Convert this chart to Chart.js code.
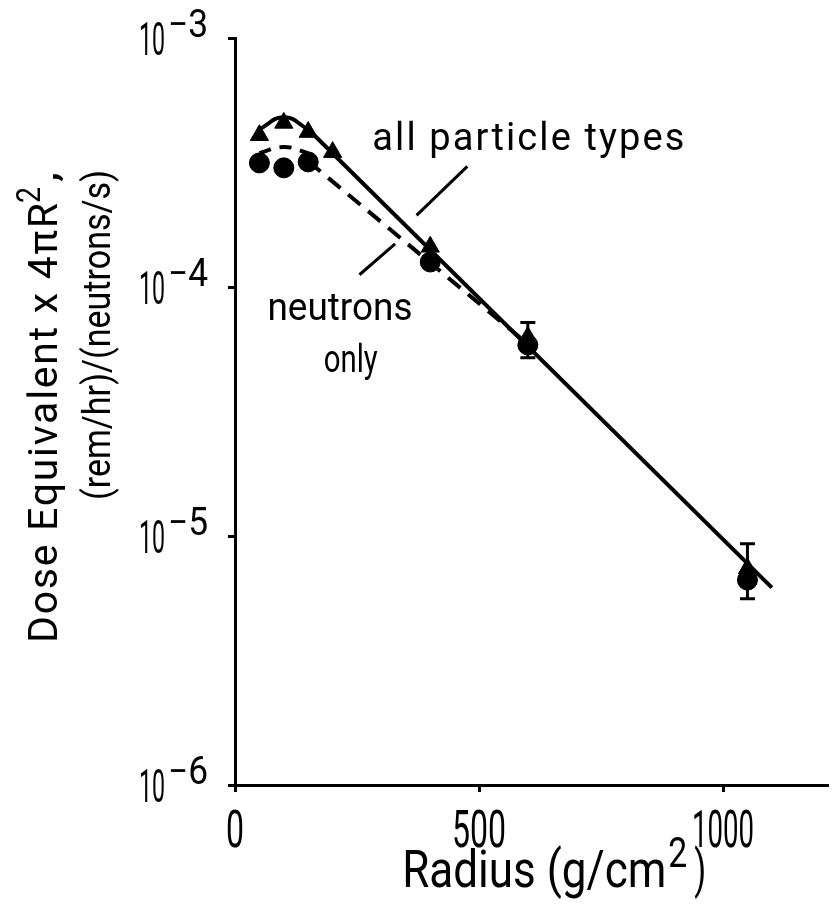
<!DOCTYPE html>
<html>
<head>
<meta charset="utf-8">
<script src="https://cdn.jsdelivr.net/npm/chart.js@4.4.0/dist/chart.umd.min.js"></script>
<style>
    html, body { margin: 0; padding: 0; background: #fff; }
    #area_grafico { width: 839px; height: 923px; }
</style>
</head>
<body>
<div id="area_grafico"><canvas id="grafico" width="839" height="923"></canvas></div>
<script>
// all particle types (triangles)
var raioTodas = [50, 100, 150, 200, 400, 600, 1050];
var doseTodas = [4.07e-4, 4.56e-4, 4.19e-4, 3.48e-4, 1.45e-4, 6.3e-5, 7.4e-6];

// neutrons only (circles)
var raioNeutrons = [50, 100, 150, 400, 600, 1050];
var doseNeutrons = [3.15e-4, 3.01e-4, 3.18e-4, 1.26e-4, 5.85e-5, 6.65e-6];

// error bars on the neutron points
var raioErro = [600, 1050];
var erroSup = [7.2e-5, 9.3e-6];
var erroInf = [5.2e-5, 5.6e-6];

// hand drawn curves
var raioCurvaTodas = [50, 100, 150];
var doseCurvaTodas = [4.3e-4, 4.8e-4, 4.3e-4];
var raioRetaTodas = [150, 1100];
var doseRetaTodas = [4.3e-4, 6.2e-6];
var raioCurvaNeutrons = [50, 100, 150];
var doseCurvaNeutrons = [3.45e-4, 3.65e-4, 3.45e-4];
var raioRetaNeutrons = [150, 600];
var doseRetaNeutrons = [3.2e-4, 5.9e-5];

// axes
var ticksX = [0, 500, 1000];
var ticksY = [1e-6, 1e-5, 1e-4, 1e-3];
var expoentesY = ['\u22126', '\u22125', '\u22124', '\u22123'];

var fonte = 'Roboto, "DejaVu Sans", sans-serif';

function pontos(xs, ys) {
    var lista = [];
    for (var i = 0; i < xs.length; i++) {
        lista.push({ x: xs[i], y: ys[i] });
    }
    return lista;
}

// draws runs of text, each fitted to its own width w
// (squeezed when too wide, letter spaced when too narrow)
function escreverRuns(ctx, runs, x, y, alinhar) {
    var total = 0;
    for (var i = 0; i < runs.length; i++) total += runs[i].w;
    var pos = 0;
    if (alinhar == 'right') pos = -total;
    if (alinhar == 'center') pos = -total / 2;
    ctx.save();
    ctx.translate(x, y);
    ctx.textAlign = 'left';
    ctx.textBaseline = 'alphabetic';
    for (var i = 0; i < runs.length; i++) {
        var r = runs[i];
        if (r.t) {
            ctx.font = `400 ${r.tam}px ${fonte}`;
            ctx.letterSpacing = '0px';
            var nat = ctx.measureText(r.t).width;
            ctx.save();
            ctx.translate(pos, r.dy || 0);
            if (nat > r.w || r.t.length < 2) {
                ctx.scale(r.w / nat, 1);
            } else {
                ctx.letterSpacing = ((r.w - nat) / (r.t.length - 1)) + 'px';
            }
            ctx.fillText(r.t, 0, 0);
            ctx.restore();
        }
        pos += r.w;
    }
    ctx.restore();
}

function larguraNumero(txt) {
    var w = txt.length * 18;
    if (txt[0] == '1') w -= 10;
    return w;
}

var pluginTextos = {
    id: 'textos',
    afterDraw: function (chart) {
        var ctx = chart.ctx;
        var sx = chart.scales.x;
        var sy = chart.scales.y;
        ctx.save();
        ctx.fillStyle = '#000';
        ctx.strokeStyle = '#000';

        // y tick labels 10^n
        for (var i = 0; i < ticksY.length; i++) {
            var py = sy.getPixelForValue(ticksY[i]);
            escreverRuns(ctx, [
                { t: '10', tam: 46, w: 26 },
                { t: '', w: 3 },
                { t: expoentesY[i], tam: 38, w: 40, dy: -18 }
            ], sx.left - 27, py + 17, 'right');
        }

        // x tick labels
        for (var i = 0; i < ticksX.length; i++) {
            var px = sx.getPixelForValue(ticksX[i]);
            var txt = String(ticksX[i]);
            escreverRuns(ctx, [{ t: txt, tam: 52, w: larguraNumero(txt) }], px, sy.bottom + 62, 'center');
        }

        // x title
        escreverRuns(ctx, [
            { t: 'Radius (g/cm', tam: 52, w: 264 },
            { t: '', w: 2 },
            { t: '2', tam: 42, w: 19, dy: -20 },
            { t: '', w: 7 },
            { t: ')', tam: 52, w: 12 }
        ], (sx.left + sx.right) / 2 + 23, sy.bottom + 102, 'center');

        // y title, two lines, rotated
        ctx.save();
        ctx.translate(57, 172);
        ctx.rotate(-Math.PI / 2);
        escreverRuns(ctx, [
            { t: 'Dose Equivalent x 4\u03C0R', tam: 41, w: 440 },
            { t: '2', tam: 34, w: 16, dy: -17 },
            { t: '', w: 5 },
            { t: ',', tam: 41, w: 10 }
        ], 0, 0, 'right');
        ctx.restore();
        ctx.save();
        ctx.translate(110, 170);
        ctx.rotate(-Math.PI / 2);
        escreverRuns(ctx, [{ t: '(rem/hr)/(neutrons/s)', tam: 38, w: 330 }], 0, 0, 'right');
        ctx.restore();

        // curve labels
        escreverRuns(ctx, [{ t: 'all particle types', tam: 38, w: 312 }],
            sx.getPixelForValue(601), sy.getPixelForValue(3.55e-4), 'center');
        escreverRuns(ctx, [{ t: 'neutrons', tam: 38, w: 145 }],
            sx.getPixelForValue(215), sy.getPixelForValue(7.4e-5), 'center');
        escreverRuns(ctx, [{ t: 'only', tam: 38, w: 54 }],
            sx.getPixelForValue(237), sy.getPixelForValue(4.56e-5), 'center');

        // pointer lines
        ctx.lineWidth = 3;
        ctx.beginPath();
        ctx.moveTo(sx.getPixelForValue(476), sy.getPixelForValue(3.05e-4));
        ctx.lineTo(sx.getPixelForValue(372), sy.getPixelForValue(1.94e-4));
        ctx.moveTo(sx.getPixelForValue(255), sy.getPixelForValue(1.12e-4));
        ctx.lineTo(sx.getPixelForValue(328), sy.getPixelForValue(1.49e-4));
        ctx.stroke();
        ctx.restore();
    }
};

var datasets = [
    {
        label: 'all particle types',
        data: pontos(raioTodas, doseTodas),
        pointStyle: 'triangle',
        pointRadius: 10.5,
        backgroundColor: '#000',
        borderColor: '#000',
        showLine: false
    },
    {
        label: 'neutrons only',
        data: pontos(raioNeutrons, doseNeutrons),
        pointStyle: 'circle',
        pointRadius: 10,
        backgroundColor: '#000',
        borderColor: '#000',
        showLine: false
    }
];

for (var i = 0; i < raioErro.length; i++) {
    datasets.push({
        label: 'erro' + i,
        data: pontos([raioErro[i], raioErro[i]], [erroSup[i], erroInf[i]]),
        showLine: true,
        borderColor: '#000',
        borderWidth: 3,
        pointStyle: 'line',
        pointRadius: 7.5,
        pointBorderWidth: 3,
        pointBorderColor: '#000'
    });
}

var linhas = [
    [raioCurvaTodas, doseCurvaTodas, [], 0.5],
    [raioRetaTodas, doseRetaTodas, [], 0],
    [raioCurvaNeutrons, doseCurvaNeutrons, [12, 9], 0.5],
    [raioRetaNeutrons, doseRetaNeutrons, [16, 10], 0]
];
for (var i = 0; i < linhas.length; i++) {
    datasets.push({
        label: 'linha' + i,
        data: pontos(linhas[i][0], linhas[i][1]),
        showLine: true,
        borderColor: '#000',
        borderWidth: 4,
        borderDash: linhas[i][2],
        tension: linhas[i][3],
        pointRadius: 0
    });
}

var config = {
    type: 'scatter',
    data: { datasets: datasets },
    options: {
        responsive: false,
        animation: false,
        devicePixelRatio: 1,
        layout: { padding: { top: 38, right: 0, left: 0, bottom: 0 } },
        plugins: {
            legend: { display: false },
            tooltip: { enabled: false }
        },
        scales: {
            x: {
                type: 'linear',
                min: 0,
                max: 1214,
                afterBuildTicks: function (s) { s.ticks = ticksX.map(function (v) { return { value: v }; }); },
                afterFit: function (s) { s.height = 138; },
                ticks: { display: false },
                grid: { drawOnChartArea: false, drawTicks: true, tickLength: 7, color: '#000', lineWidth: 3 },
                border: { display: true, color: '#000', width: 3 }
            },
            y: {
                type: 'logarithmic',
                min: 1e-6,
                max: 1e-3,
                afterBuildTicks: function (s) { s.ticks = ticksY.map(function (v) { return { value: v }; }); },
                afterFit: function (s) { s.width = 235; },
                ticks: { display: false },
                grid: { drawOnChartArea: false, drawTicks: true, tickLength: 7, color: '#000', lineWidth: 3 },
                border: { display: true, color: '#000', width: 3 }
            }
        }
    },
    plugins: [pluginTextos]
};

window.grafico = new Chart(document.getElementById('grafico'), config);
console.log('grafico pronto');
</script>
</body>
</html>
